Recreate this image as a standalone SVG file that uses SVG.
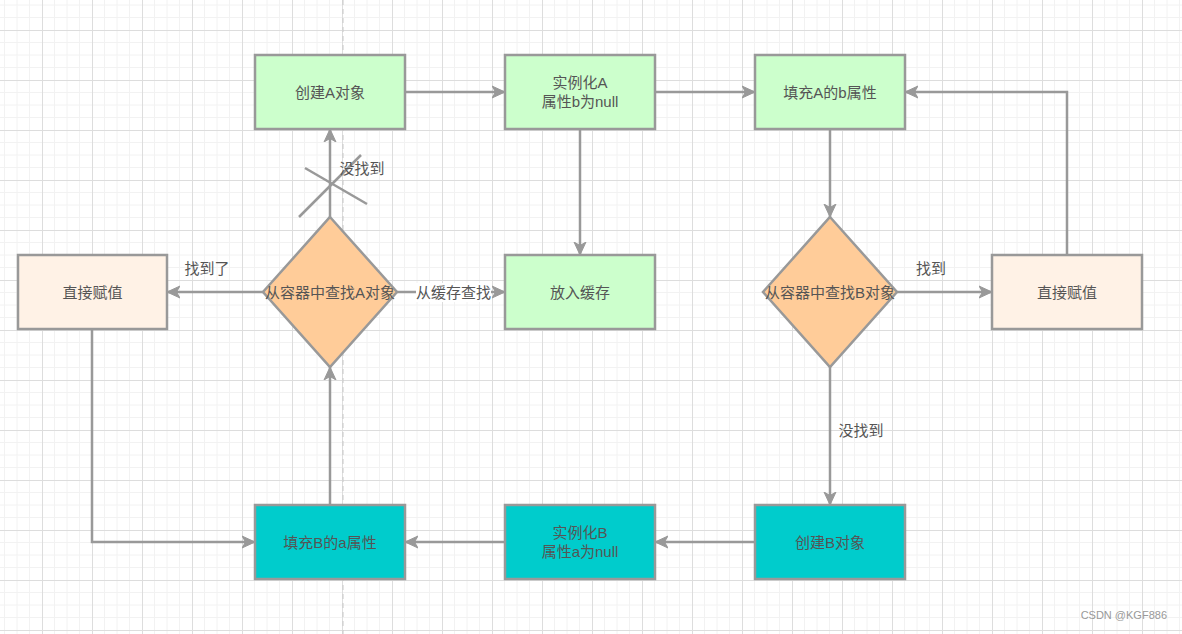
<svg xmlns="http://www.w3.org/2000/svg" width="1182" height="634" viewBox="0 0 1182 634">
<defs>
<pattern id="grid" x="42" y="30" width="50" height="50" patternUnits="userSpaceOnUse">
<path d="M12.5,0V50M25,0V50M37.5,0V50M0,12.5H50M0,25H50M0,37.5H50" stroke="#f2f2f2" stroke-width="1" fill="none"/>
<path d="M0.5,0V50M0,0.5H50" stroke="#dddddd" stroke-width="1" fill="none"/>
</pattern>
<marker id="arr" markerUnits="userSpaceOnUse" markerWidth="16" markerHeight="14" refX="13" refY="7" orient="auto" viewBox="0 0 16 14">
<path d="M0,1 L13,7 L0,13 L3.5,7 Z" fill="#999999" stroke="#999999" stroke-width="1" stroke-linejoin="miter"/>
</marker>
</defs>
<style>
.box{stroke:#999999;stroke-width:2.5}
.green{fill:#ccffcc}
.peach{fill:#fff2e6}
.orange{fill:#ffcc99}
.cyan{fill:#00cccc}
.t{font-family:"Liberation Sans","Noto Sans CJK SC",sans-serif;font-size:15px;fill:#555555;text-anchor:middle;dominant-baseline:central}
.edge{fill:none;stroke:#999999;stroke-width:2.5;marker-end:url(#arr)}
</style>
<rect width="1182" height="634" fill="#ffffff"/>
<rect width="1182" height="634" fill="url(#grid)"/>
<line x1="343" y1="0" x2="343" y2="634" stroke="#c8c8c8" stroke-width="1" stroke-dasharray="5,4"/>

<g id="connectors">
<path class="edge" d="M405,92H505"/>
<path class="edge" d="M655,92H755"/>
<path class="edge" d="M580,129V255"/>
<path class="edge" d="M830,129V217"/>
<path class="edge" d="M897,292H992"/>
<path class="edge" d="M1067,255V92H905"/>
<path class="edge" d="M830,367V505"/>
<path class="edge" d="M755,542H655"/>
<path class="edge" d="M505,542H405"/>
<path class="edge" d="M330,505V367"/>
<path class="edge" d="M263,292H167"/>
<path class="edge" d="M92,329V542H255"/>
<path class="edge" d="M397,292H505"/>
<path class="edge" d="M330,217V129"/>
<line x1="299" y1="217" x2="361" y2="155" stroke="#999999" stroke-width="2.5"/>
<line x1="305" y1="168" x2="367" y2="204" stroke="#999999" stroke-width="2.5"/>
<rect x="416" y="283" width="75" height="19" fill="#ffffff"/>
<text class="t" x="453.5" y="292">从缓存查找</text>
<text class="t" x="207" y="268">找到了</text>
<text class="t" x="362" y="168">没找到</text>
<text class="t" x="931" y="268">找到</text>
<text class="t" x="861" y="430">没找到</text>
</g>

<g id="createA"><rect class="box green" x="255" y="55" width="150" height="74"/><text class="t" x="330" y="92">创建A对象</text></g>
<g id="instA"><rect class="box green" x="505" y="55" width="150" height="74"/><text class="t" x="580" y="82.5">实例化A</text><text class="t" x="580" y="101.5">属性b为null</text></g>
<g id="fillA"><rect class="box green" x="755" y="55" width="150" height="74"/><text class="t" x="830" y="92">填充A的b属性</text></g>
<g id="assignL"><rect class="box peach" x="18" y="255" width="149" height="74"/><text class="t" x="92.5" y="292">直接赋值</text></g>
<g id="findA"><polygon class="box orange" points="330,217 397,292 330,367 263,292"/><text class="t" x="330" y="292">从容器中查找A对象</text></g>
<g id="cache"><rect class="box green" x="505" y="255" width="150" height="74"/><text class="t" x="580" y="292">放入缓存</text></g>
<g id="findB"><polygon class="box orange" points="830,217 897,292 830,367 763,292"/><text class="t" x="830" y="292">从容器中查找B对象</text></g>
<g id="assignR"><rect class="box peach" x="992" y="255" width="150" height="74"/><text class="t" x="1067" y="292">直接赋值</text></g>
<g id="fillB"><rect class="box cyan" x="255" y="505" width="150" height="74"/><text class="t" x="330" y="542">填充B的a属性</text></g>
<g id="instB"><rect class="box cyan" x="505" y="505" width="150" height="74"/><text class="t" x="580" y="532.5">实例化B</text><text class="t" x="580" y="551.5">属性a为null</text></g>
<g id="createB"><rect class="box cyan" x="755" y="505" width="150" height="74"/><text class="t" x="830" y="542">创建B对象</text></g>

<text x="1167" y="619" font-family="Liberation Sans,sans-serif" font-size="11" fill="#999999" text-anchor="end">CSDN @KGF886</text>
</svg>
